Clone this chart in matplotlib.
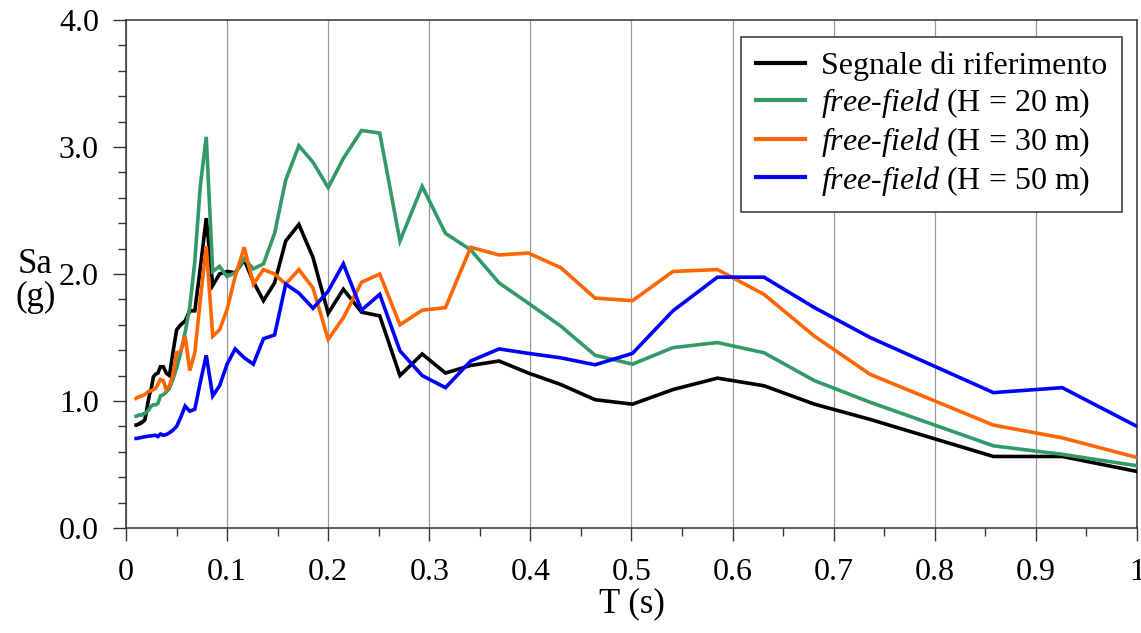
import matplotlib
matplotlib.use('Agg')
import matplotlib.pyplot as plt
from matplotlib.ticker import MultipleLocator, FixedFormatter, FixedLocator

################################################################################
# Plot settings
################################################################################

plt.rcParams['font.family'] = ['Liberation Serif', 'DejaVu Serif']
plt.rcParams['mathtext.fontset'] = 'custom'
plt.rcParams['mathtext.rm'] = 'Liberation Serif'
plt.rcParams['mathtext.it'] = 'Liberation Serif:italic'

# periods (s)
T = [0.0100, 0.0108, 0.0117, 0.0126, 0.0136, 0.0147, 0.0158, 0.0171, 0.0185, 0.0200,
     0.0215, 0.0233, 0.0251, 0.0271, 0.0293, 0.0316, 0.0341, 0.0369, 0.0398, 0.0430,
     0.0464, 0.0501, 0.0541, 0.0585, 0.0631, 0.0681, 0.0736, 0.0794, 0.0858, 0.0926,
     0.100, 0.108, 0.117, 0.126, 0.136, 0.147, 0.158, 0.171, 0.185, 0.200,
     0.215, 0.233, 0.251, 0.271, 0.293, 0.316, 0.341, 0.369, 0.398, 0.430,
     0.464, 0.501, 0.541, 0.585, 0.631, 0.681, 0.736, 0.858, 0.926, 1.000]

# spectral acceleration Sa (g)
sa_ref = [0.81, 0.81, 0.815, 0.82, 0.82, 0.83, 0.83, 0.84, 0.85, 0.90,
          0.98, 1.05, 1.10, 1.19, 1.21, 1.22, 1.27, 1.27, 1.22, 1.20,
          1.38, 1.56, 1.60, 1.63, 1.71, 1.71, 2.05, 2.44, 1.91, 2.00,
          2.02, 2.01, 2.11, 1.94, 1.79, 1.93, 2.26, 2.39, 2.13, 1.69,
          1.88, 1.70, 1.67, 1.20, 1.37, 1.22, 1.28, 1.315, 1.22, 1.13,
          1.01, 0.975, 1.09, 1.18, 1.12, 0.975, 0.855, 0.563, 0.563, 0.445]

sa_h20 = [0.88, 0.88, 0.885, 0.89, 0.89, 0.89, 0.89, 0.90, 0.90, 0.91,
          0.92, 0.94, 0.96, 0.97, 0.97, 0.98, 1.04, 1.05, 1.07, 1.10,
          1.17, 1.26, 1.38, 1.54, 1.74, 2.10, 2.70, 3.08, 2.02, 2.06,
          1.98, 2.01, 2.12, 2.04, 2.08, 2.32, 2.74, 3.01, 2.88, 2.68,
          2.91, 3.13, 3.11, 2.26, 2.69, 2.32, 2.19, 1.93, 1.77, 1.59,
          1.36, 1.29, 1.42, 1.46, 1.38, 1.16, 0.99, 0.647, 0.58, 0.49]

sa_h30 = [1.02, 1.025, 1.03, 1.03, 1.035, 1.04, 1.04, 1.045, 1.05, 1.06,
          1.07, 1.08, 1.08, 1.09, 1.10, 1.13, 1.17, 1.16, 1.09, 1.12,
          1.20, 1.38, 1.39, 1.51, 1.24, 1.38, 1.80, 2.22, 1.51, 1.56,
          1.72, 1.98, 2.21, 1.92, 2.035, 2.00, 1.92, 2.035, 1.89, 1.485,
          1.655, 1.935, 2.00, 1.60, 1.715, 1.735, 2.21, 2.15, 2.165, 2.05,
          1.81, 1.79, 2.02, 2.035, 1.84, 1.51, 1.21, 0.81, 0.71, 0.555]

sa_h50 = [0.705, 0.705, 0.707, 0.709, 0.71, 0.712, 0.714, 0.716, 0.718, 0.72,
          0.722, 0.724, 0.726, 0.728, 0.73, 0.72, 0.74, 0.73, 0.735, 0.75,
          0.77, 0.80, 0.87, 0.96, 0.92, 0.935, 1.15, 1.36, 1.04, 1.12,
          1.29, 1.41, 1.34, 1.29, 1.49, 1.52, 1.92, 1.85, 1.73, 1.865,
          2.08, 1.715, 1.84, 1.395, 1.20, 1.105, 1.315, 1.41, 1.375, 1.34,
          1.285, 1.375, 1.71, 1.975, 1.975, 1.735, 1.50, 1.066, 1.105, 0.80]

series = [sa_ref, sa_h20, sa_h30, sa_h50]
labels = ['Segnale di riferimento',
          r'$\mathit{free}$-$\mathit{field}$ (H = 20 m)',
          r'$\mathit{free}$-$\mathit{field}$ (H = 30 m)',
          r'$\mathit{free}$-$\mathit{field}$ (H = 50 m)']
colors = ['black', '#339966', '#ff6600', '#0000ff']

x_ticks = [0, 0.1, 0.2, 0.3, 0.4, 0.5, 0.6, 0.7, 0.8, 0.9, 1]
x_ticklabels = ['0', '0.1', '0.2', '0.3', '0.4', '0.5', '0.6', '0.7', '0.8', '0.9', '1']
y_ticks = [0, 1, 2, 3, 4]
y_ticklabels = ['0.0', '1.0', '2.0', '3.0', '4.0']

################################################################################
# Figure
################################################################################

fig = plt.figure(figsize=(11.41, 6.33), dpi=100)
ax = fig.add_axes([0.1104, 0.1659, 0.8861, 0.8025])

for sa, lab, col in zip(series, labels, colors):
    ax.plot(T, sa, color=col, lw=2.6, label=lab, solid_joinstyle='miter', zorder=3)

ax.set_xlim(0, 1)
ax.set_ylim(0, 4)

ax.xaxis.set_major_locator(FixedLocator(x_ticks))
ax.xaxis.set_major_formatter(FixedFormatter(x_ticklabels))
ax.xaxis.set_minor_locator(MultipleLocator(0.05))
ax.yaxis.set_major_locator(FixedLocator(y_ticks))
ax.yaxis.set_major_formatter(FixedFormatter(y_ticklabels))
ax.yaxis.set_minor_locator(MultipleLocator(0.2))

ax.tick_params(axis='both', which='major', direction='out', length=9.5, width=1.0,
               labelsize=23, color='#333333')
ax.tick_params(axis='both', which='minor', direction='out', length=5.5, width=1.0,
               color='#333333')
ax.tick_params(axis='y', which='major', pad=10)
ax.tick_params(axis='x', which='major', pad=12)

for sp in ax.spines.values():
    sp.set_linewidth(1.1)
    sp.set_color('#333333')

ax.grid(True, axis='x', which='major', color='#999999', lw=0.9)
ax.set_axisbelow(True)

ax.set_xlabel('T (s)', fontsize=25, labelpad=0)
fig.text(0.031, 0.556, 'Sa\n(g)', fontsize=25, ha='center', va='center', linespacing=1.0)

leg = ax.legend(loc='upper right', bbox_to_anchor=(0.985, 0.966), borderaxespad=0,
                fontsize=23, frameon=True, fancybox=False, edgecolor='#333333',
                handlelength=1.55, handletextpad=0.5, labelspacing=0.15,
                borderpad=0.45, framealpha=1)
leg.get_frame().set_linewidth(1.1)
for h in leg.get_lines():
    h.set_linewidth(3)

plt.savefig('out.png', dpi=100)
